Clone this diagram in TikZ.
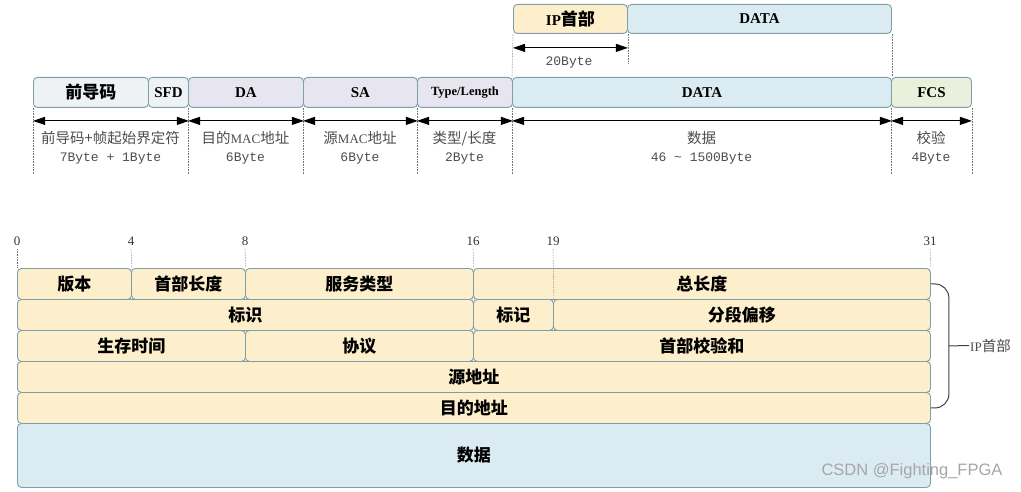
\documentclass[tikz,border=0pt]{standalone}
\usepackage{fontspec}
\setmainfont{Liberation Serif}
\setmonofont{Liberation Mono}
\newfontfamily\cjk{Noto Sans CJK SC}
\newfontfamily\wmfont{Liberation Sans}
\usetikzlibrary{arrows.meta}
\definecolor{edgec}{HTML}{7F9FA7}
\definecolor{grayf}{HTML}{EFF2F5}
\definecolor{lavf}{HTML}{E7E5F0}
\definecolor{bluef}{HTML}{DAECF1}
\definecolor{greenf}{HTML}{EAF0DC}
\definecolor{yelf}{HTML}{FDEFCB}
% CJK text in notes and in boxes
\newcommand{\zhn}{\cjk\fontsize{14.5}{18}\selectfont}
\newcommand{\zhb}{\cjk\bfseries\fontsize{17}{17}\selectfont}
\begin{document}
\begin{tikzpicture}[x=1pt,y=-1pt,
    field/.style={draw=edgec,line width=0.9pt,rounded corners=4pt,anchor=north west,
      inner sep=0pt,font=\bfseries\fontsize{15}{15}\selectfont},
    han/.style={font=\zhb},
    dim/.style={{Triangle[length=12pt,width=8pt]}-{Triangle[length=12pt,width=8pt]},line width=1pt},
    guide/.style={densely dotted,line width=0.6pt,black!55},
    note/.style={font=\fontsize{13}{18}\selectfont,text=black!70,align=center},
    bit/.style={font=\fontsize{13}{13}\selectfont,text=black!80}]
  \useasboundingbox (0,0) rectangle (1021,492);
  % Ethernet frame
  \node[field,fill=yelf,minimum width=114pt,minimum height=29pt] (iph) at (513,4) {IP{\zhb 首部}};
  \node[field,fill=bluef,minimum width=264pt,minimum height=29pt] (ipd) at (627,4) {DATA};
  \node[field,han,fill=grayf,minimum width=115pt,minimum height=30pt] (pre) at (33,77) {前导码};
  \node[field,fill=grayf,minimum width=40pt,minimum height=30pt] (sfd) at (148,77) {SFD};
  \node[field,fill=lavf,minimum width=115pt,minimum height=30pt] (da) at (188,77) {DA};
  \node[field,fill=lavf,minimum width=114pt,minimum height=30pt] (sa) at (303,77) {SA};
  \node[field,fill=lavf,minimum width=95pt,minimum height=30pt,font=\bfseries\fontsize{12.5}{12.5}\selectfont] (tl) at (417,77) {Type/Length};
  \node[field,fill=bluef,minimum width=379pt,minimum height=30pt] (dat) at (512,77) {DATA};
  \node[field,fill=greenf,minimum width=80pt,minimum height=30pt] (fcs) at (891,77) {FCS};
  % guide lines
  \draw[guide] (iph.south west) -- (dat.north west);
  \draw[guide] (iph.south east) -- ++(0,30);
  \draw[guide] (ipd.south east) -- (dat.north east);
  \foreach \n in {pre,da,sa,tl,dat,fcs}
    \draw[guide] (\n.south west) -- ++(0,66);
  \draw[guide] (fcs.south east) -- ++(0,66);
  % sizes
  \draw[dim] ([yshift=-14pt]iph.south west) -- ([yshift=-14pt]iph.south east);
  \draw[dim] ([yshift=-13pt]pre.south west) -- ([yshift=-13pt]sfd.south east);
  \draw[dim] ([yshift=-13pt]da.south west) -- ([yshift=-13pt]da.south east);
  \draw[dim] ([yshift=-13pt]sa.south west) -- ([yshift=-13pt]sa.south east);
  \draw[dim] ([yshift=-13pt]tl.south west) -- ([yshift=-13pt]tl.south east);
  \draw[dim] ([yshift=-13pt]dat.south west) -- ([yshift=-13pt]dat.south east);
  \draw[dim] ([yshift=-13pt]fcs.south west) -- ([yshift=-13pt]fcs.south east);
  \node[note] (n20) at (569,63) {\texttt{20Byte}};
  \node[note] (npre) at (110.5,148) {{\zhn 前导码+帧起始界定符}\\\texttt{7Byte + 1Byte}};
  \node[note] (nda) at (245.5,148) {{\zhn 目的}MAC{\zhn 地址}\\\texttt{6Byte}};
  \node[note] (nsa) at (360,148) {{\zhn 源}MAC{\zhn 地址}\\\texttt{6Byte}};
  \node[note] (ntl) at (464.5,148) {{\zhn 类型/长度}\\\texttt{2Byte}};
  \node[note] (ndat) at (701.5,148) {{\zhn 数据}\\\texttt{46 \textasciitilde{} 1500Byte}};
  \node[note] (nfcs) at (931,148) {{\zhn 校验}\\\texttt{4Byte}};
  % IP header
  \node[bit] (b0) at (17,241) {0};
  \node[bit] (b4) at (131,241) {4};
  \node[bit] (b8) at (245,241) {8};
  \node[bit] (b16) at (473,241) {16};
  \node[bit] (b19) at (553,241) {19};
  \node[bit] (b31) at (930,241) {31};
  \node[field,han,fill=yelf,minimum width=114pt,minimum height=31pt] (ver) at (17,268) {版本};
  \node[field,han,fill=yelf,minimum width=114pt,minimum height=31pt] (hlen) at (131,268) {首部长度};
  \node[field,han,fill=yelf,minimum width=228pt,minimum height=31pt] (tos) at (245,268) {服务类型};
  \node[field,han,fill=yelf,minimum width=457pt,minimum height=31pt] (tlen) at (473,268) {总长度};
  \node[field,han,fill=yelf,minimum width=456pt,minimum height=31pt] (ident) at (17,299) {标识};
  \node[field,han,fill=yelf,minimum width=80pt,minimum height=31pt] (flag) at (473,299) {标记};
  \node[field,han,fill=yelf,minimum width=377pt,minimum height=31pt] (frag) at (553,299) {分段偏移};
  \node[field,han,fill=yelf,minimum width=228pt,minimum height=31pt] (ttl) at (17,330) {生存时间};
  \node[field,han,fill=yelf,minimum width=228pt,minimum height=31pt] (proto) at (245,330) {协议};
  \node[field,han,fill=yelf,minimum width=457pt,minimum height=31pt] (csum) at (473,330) {首部校验和};
  \node[field,han,fill=yelf,minimum width=913pt,minimum height=31pt] (src) at (17,361) {源地址};
  \node[field,han,fill=yelf,minimum width=913pt,minimum height=31pt] (dst) at (17,392) {目的地址};
  \node[field,han,fill=bluef,minimum width=913pt,minimum height=64pt] (data) at (17,423) {数据};
  \draw[guide] (b0.south) -- (ver.north west);
  \draw[guide] (b4.south) -- (ver.north east);
  \draw[guide] (b8.south) -- (hlen.north east);
  \draw[guide] (b16.south) -- (tos.north east);
  \draw[guide] (b19.south) -- (flag.north east);
  \draw[guide] (b31.south) -- (tlen.north east);
  % bracket
  \draw[line width=1pt,black!75,rounded corners=14pt] (tlen.east) -| ([xshift=18pt]csum.east) |- (dst.east);
  \node[note,anchor=west,inner sep=1pt] (iplab) at (969,345.5) {IP{\zhn 首部}};
  \draw[line width=1pt,black!75] ([xshift=18pt]csum.east) -- (iplab.west);
  \node[font=\wmfont\fontsize{16.5}{16.5}\selectfont,text=black!35] (mark) at (912,471) {CSDN @Fighting\_FPGA};
\end{tikzpicture}
\end{document}
